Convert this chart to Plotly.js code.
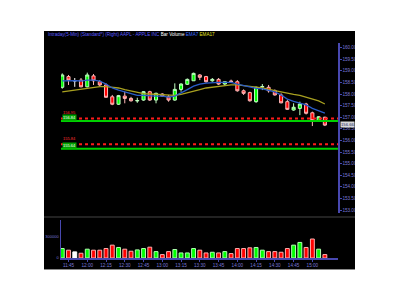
<!DOCTYPE html>
<html><head><meta charset="utf-8">
<script src="https://cdn.plot.ly/plotly-3.0.1.min.js"></script>
<style>
html,body{margin:0;padding:0;background:#fff;}
#box{position:absolute;left:44px;top:31px;width:311px;height:238px;background:#000;border-bottom:1px solid #8a8a8a;}
</style></head><body>
<div id="box"></div>
<script>
const times = ["11:40","11:45","11:50","11:55","12:00","12:05","12:10","12:15","12:20","12:25","12:30","12:35","12:40","12:45","12:50","12:55","13:00","13:05","13:10","13:15","13:20","13:25","13:30","13:35","13:40","13:45","13:50","13:55","14:00","14:05","14:10","14:15","14:20","14:25","14:30","14:35","14:40","14:45","14:50","14:55","15:00","15:05","15:10"];
const tickLabels = ["11:45","12:00","12:15","12:30","12:45","13:00","13:15","13:30","13:45","14:00","14:15","14:30","14:45","15:00"];
const open  = [158.29,158.75,158.57,158.60,158.31,158.78,158.53,158.39,157.88,157.56,157.91,157.81,157.70,157.74,158.10,157.74,158.00,157.88,157.74,158.20,158.42,158.57,158.82,158.75,158.57,158.63,158.43,158.56,158.53,158.14,158.06,157.67,158.30,158.29,158.14,157.96,157.67,157.31,157.38,157.57,157.19,156.84,157.00];
const high  = [158.89,158.82,158.69,158.69,158.92,158.86,158.60,158.46,157.96,157.96,158.10,157.88,157.84,158.13,158.14,158.06,158.03,157.96,158.46,158.46,158.67,158.92,158.86,158.78,158.69,158.69,158.53,158.62,158.60,158.20,158.10,158.32,158.43,158.39,158.20,158.03,157.74,157.60,157.67,157.62,157.24,157.05,157.02];
const low   = [158.23,158.39,158.31,158.29,158.29,158.39,158.34,157.84,157.52,157.53,157.60,157.67,157.62,157.71,157.70,157.60,157.88,157.67,157.71,158.10,158.39,158.57,158.60,158.49,158.53,158.39,158.39,158.49,158.10,157.96,157.67,157.62,158.17,158.06,157.93,157.60,157.31,157.28,157.09,157.12,156.62,156.80,156.62];
const close = [158.82,158.60,158.57,158.31,158.82,158.57,158.39,157.86,157.56,157.93,157.81,157.71,157.72,158.10,157.74,158.03,157.91,157.74,158.20,158.43,158.63,158.89,158.72,158.53,158.63,158.43,158.53,158.54,158.14,158.03,157.71,158.29,158.32,158.14,157.96,157.62,157.34,157.43,157.57,157.17,156.85,157.02,156.66];
const volume = [133000,110000,86000,67000,124000,110000,110000,133000,181000,148000,124000,95000,114000,133000,152000,90000,48000,90000,119000,71000,71000,133000,110000,71000,81000,71000,90000,62000,133000,133000,143000,148000,110000,90000,90000,81000,133000,181000,219000,148000,267000,124000,48000];
const ema7  = [158.57,158.59,158.58,158.56,158.60,158.60,158.56,158.43,158.26,158.17,158.09,158.00,157.94,157.94,157.91,157.91,157.91,157.87,157.91,158.04,158.19,158.34,158.43,158.47,158.50,158.50,158.50,158.50,158.43,158.37,158.28,158.24,158.22,158.15,158.09,157.96,157.78,157.68,157.61,157.53,157.38,157.29,157.18];
const ema17 = [158.09,158.13,158.17,158.22,158.26,158.30,158.32,158.32,158.30,158.26,158.19,158.13,158.06,158.02,158.00,157.98,157.96,157.94,157.94,157.98,158.04,158.13,158.19,158.26,158.30,158.34,158.37,158.39,158.39,158.37,158.34,158.30,158.26,158.22,158.15,158.09,158.02,157.98,157.94,157.87,157.78,157.70,157.57];
const levelPrices = [156.95,156.84,155.84,155.64];
const levelKinds  = ["red","green","red","green"];
const lastPrice = 156.66;

const GREEN="#00ff00", RED="#ff0000", AXIS="#4848b0", LBL="#7878d8";
const idx = times.map((t,i)=>i);
const norm = idx.filter(i=>open[i]!==close[i]);
const doji = idx.filter(i=>open[i]===close[i]);
const pick=(a,s)=>s.map(i=>a[i]);

const traces = [
 {type:'bar', x:times, y:volume, xaxis:'x', yaxis:'y2', width:0.62,
  marker:{color:idx.map(i=>close[i]>open[i]?GREEN:close[i]<open[i]?RED:'#ffffff'),
          line:{width:1,color:idx.map(i=>close[i]>open[i]?'#b0ffb0':close[i]<open[i]?'#ffb0b0':'#ffffff')}}},
 {type:'scatter', mode:'lines', x:times, y:ema17, xaxis:'x', yaxis:'y', line:{color:'#a8a020',width:1.3}},
 {type:'scatter', mode:'lines', x:times, y:ema7, xaxis:'x', yaxis:'y', line:{color:'#2a5cc8',width:1.3}},
 {type:'candlestick', x:pick(times,norm), open:pick(open,norm), high:pick(high,norm), low:pick(low,norm), close:pick(close,norm),
  xaxis:'x', yaxis:'y', whiskerwidth:0,
  increasing:{fillcolor:GREEN, line:{color:'#c0ffc0',width:1}},
  decreasing:{fillcolor:RED, line:{color:'#ffb8b8',width:1}}},
 {type:'candlestick', x:pick(times,doji), open:pick(open,doji), high:pick(high,doji), low:pick(low,doji), close:pick(close,doji),
  xaxis:'x', yaxis:'y', whiskerwidth:0,
  increasing:{fillcolor:'#ffffff', line:{color:'#ffffff',width:1}},
  decreasing:{fillcolor:'#ffffff', line:{color:'#ffffff',width:1}}}
];

const W=311,H=238,L=17.45,R=17.1,T=12,B=11;
const pw=W-L-R, ph=H-T-B;
const shapes = levelPrices.map((p,k)=>({type:'line', xref:'paper', yref:'y', x0:0, x1:1, y0:p, y1:p,
   line:{color: levelKinds[k]==='red'?'#ff1a1a':'#00d000', width:2, dash: levelKinds[k]==='red'?'dot':'solid'}}));
shapes.push({type:'line', xref:'paper', yref:'paper', x0:-L/pw, x1:(W-L)/pw, y0:(H-B-186)/ph, y1:(H-B-186)/ph, line:{color:'#444',width:1}});

const annotations = [
 {xref:'paper', yref:'paper', x:(2-L)/pw, y:(H-B-3)/ph, xanchor:'left', yanchor:'middle', showarrow:false,
  font:{family:'Arial, Liberation Sans', size:4.6, color:'#5a5aff'},
  text:'Intraday(5-Min) (Standard*) (Right) AAPL - APPLE INC <span style="color:#ffffff">Bar</span> <span style="color:#ffffff">Volume</span> <span style="color:#3a6cff">EMA7</span> <span style="color:#e0e020">EMA17</span>'},
 {xref:'paper', yref:'y', x:1.008, y:lastPrice, yshift:1, xanchor:'left', yanchor:'middle', showarrow:false, bgcolor:'#d8d8d8', borderpad:0,
  font:{family:'Arial, Liberation Sans', size:4.2, color:'#202060'}, text:lastPrice.toFixed(2)}
];
levelPrices.forEach((p,k)=>{
  const red = levelKinds[k]==='red';
  annotations.push({xref:'paper', yref:'y', x:0.005, y:p, yshift: red?5.5:3, xanchor:'left', yanchor:'middle', showarrow:false,
    bgcolor: red?'rgba(0,0,0,0)':'#00a000', borderpad:0,
    font:{family:'Arial, Liberation Sans', size:4.0, color: red?'#ff3030':'#ffffff'}, text:p.toFixed(2)});
});

const layout = {
 width:W, height:H, margin:{l:L,r:R,t:T,b:B,pad:0},
 paper_bgcolor:'#000', plot_bgcolor:'#000', showlegend:false,
 font:{family:'Arial, Liberation Sans', size:4.6, color:LBL},
 xaxis:{type:'category', categoryorder:'array', categoryarray:times, range:[-0.2,44.1], anchor:'y2',
   rangeslider:{visible:false}, showgrid:false, zeroline:false, showline:true, linecolor:AXIS, linewidth:1.5,
   tickmode:'array', tickvals:tickLabels, ticktext:tickLabels, ticks:'outside', ticklen:2, tickcolor:AXIS,
   tickfont:{size:4.6, color:LBL}},
 yaxis:{domain:[0.209,1], range:[152.871,160.198], side:'right', anchor:'x', showgrid:false, zeroline:false,
   showline:true, linecolor:AXIS, linewidth:1.5, dtick:0.5, tick0:153, tickformat:'.2f', ticks:'outside', ticklen:2, tickcolor:AXIS,
   tickfont:{size:4.6, color:LBL}},
 yaxis2:{domain:[0,0.177], range:[0,535000], side:'left', anchor:'x', showgrid:false, zeroline:false,
   showline:true, linecolor:AXIS, linewidth:1.5, tickmode:'array', tickvals:[0,300000], ticktext:['0','300000'],
   ticks:'', ticklen:0, tickfont:{size:4.0, color:LBL}},
 shapes:shapes, annotations:annotations
};
Plotly.newPlot('box', traces, layout, {staticPlot:true, displayModeBar:false});
</script></body></html>
